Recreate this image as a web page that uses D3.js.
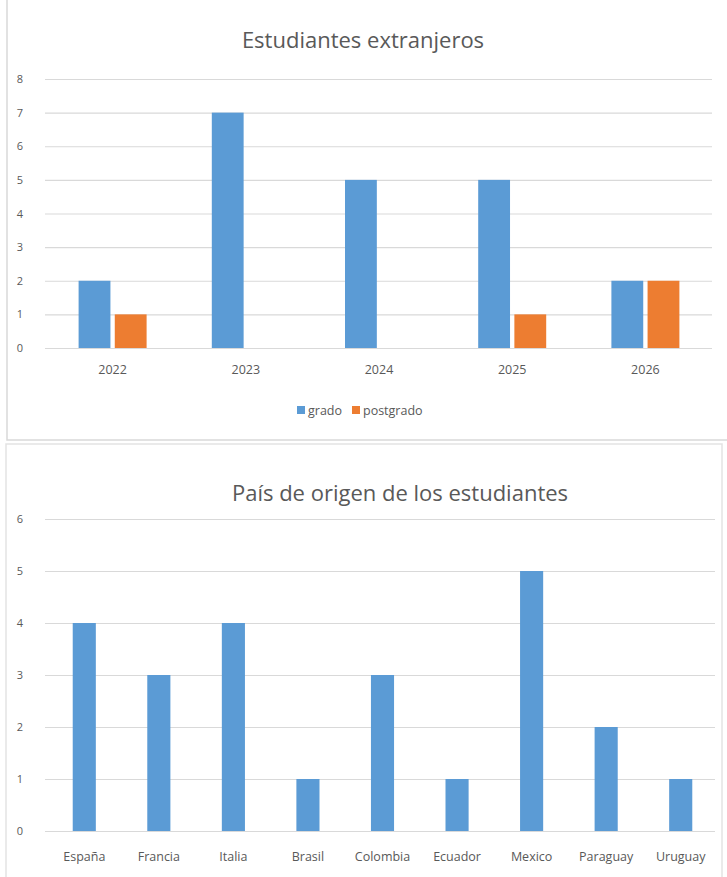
<!DOCTYPE html>
<html>
<head>
<meta charset="utf-8">
<script src="https://cdn.jsdelivr.net/npm/d3@7"></script>
<style>
  body { margin: 0; background: #fff; }
  svg text { font-family: "Open Sans", "Noto Sans", sans-serif; fill: #595959; }
</style>
</head>
<body>
<div id="chart"></div>
<script>
// datos del primer grafico
var years = ["2022", "2023", "2024", "2025", "2026"]
var grado = [2, 7, 5, 5, 2]
var postgrado = [1, 0, 0, 1, 2]
var seriesNames = ["grado", "postgrado"]
var yTicksTop = [0, 1, 2, 3, 4, 5, 6, 7, 8]

// datos del segundo grafico
var paises = ["España", "Francia", "Italia", "Brasil", "Colombia", "Ecuador", "Mexico", "Paraguay", "Uruguay"]
var estudiantes = [4, 3, 4, 1, 3, 1, 5, 2, 1]
var yTicksBottom = [0, 1, 2, 3, 4, 5, 6]

var blue = "#5b9bd5", orange = "#ed7d31", grid = "#d9d9d9"

var width = 727, height = 877

var svg = d3.select("#chart")
    .append("svg")
    .attr("width", width)
    .attr("height", height)

// marcos de los graficos
svg.append("path")
    .attr("d", "M7,-2 L7,440 L730,440")
    .attr("fill", "none")
    .attr("stroke", "#d9d9d9")
    .attr("stroke-width", 1.5)
svg.append("path")
    .attr("d", "M6,880 L6,444 L722,444 L722,880")
    .attr("fill", "none")
    .attr("stroke", "#e3e3e3")
    .attr("stroke-width", 1.5)

function drawAxisY(g, y, ticks, x0, x1) {
    var axis = d3.axisLeft(y)
        .tickValues(ticks)
        .tickSize(-(x1 - x0))
        .tickPadding(22)
        .tickFormat(d3.format("d"))
    g.attr("transform", "translate(" + x0 + ",0)").call(axis)
    g.select(".domain").remove()
    g.selectAll(".tick line").attr("stroke", grid).attr("stroke-width", 1.2)
    g.selectAll(".tick text").style("font-size", "11px")
}

// ---- Estudiantes extranjeros
var box1 = { x0: 46, x1: 712, y0: 79, y1: 348 }

var x1 = d3.scaleBand().domain(years).range([box1.x0, box1.x1])
var xs = d3.scaleBand().domain(seriesNames).range([0, 68]).paddingInner(0.12)
var y1 = d3.scaleLinear().domain([0, 8]).range([box1.y1, box1.y0])

svg.append("text")
    .attr("x", 363).attr("y", 48)
    .attr("text-anchor", "middle")
    .style("font-size", "22px")
    .text("Estudiantes extranjeros")

drawAxisY(svg.append("g"), y1, yTicksTop, box1.x0 - 1, box1.x1)

var rows = years.map(function(d, i) { return { year: d, grado: grado[i], postgrado: postgrado[i] } })

var groups = svg.append("g").selectAll("g")
    .data(rows)
    .enter().append("g")
    .attr("transform", function(d) { return "translate(" + (x1(d.year) + x1.bandwidth() / 2 - 34) + ",0)" })

groups.selectAll("rect")
    .data(function(d) { return seriesNames.map(function(k) { return { key: k, value: d[k] } }) })
    .enter().append("rect")
    .attr("x", function(d) { return xs(d.key) })
    .attr("width", xs.bandwidth())
    .attr("y", function(d) { return y1(d.value) })
    .attr("height", function(d) { return y1(0) - y1(d.value) })
    .attr("fill", function(d) { return d.key == "grado" ? blue : orange })

svg.append("g")
    .attr("transform", "translate(0," + box1.y1 + ")")
    .call(d3.axisBottom(x1).tickSize(0).tickPadding(17))
    .call(function(g) { g.select(".domain").remove() })
    .selectAll("text").style("font-size", "12.5px")

// leyenda
var legend = svg.append("g").attr("transform", "translate(297,410)")
var lx = [0, 55]
seriesNames.forEach(function(k, i) {
    legend.append("rect")
        .attr("x", lx[i]).attr("y", -4)
        .attr("width", 8).attr("height", 8)
        .attr("fill", i == 0 ? blue : orange)
    legend.append("text")
        .attr("x", lx[i] + 11).attr("y", 5)
        .style("font-size", "12.5px")
        .text(k)
})

// ---- País de origen de los estudiantes
var box2 = { x0: 47, x1: 718, y0: 519, y1: 831 }

var x2 = d3.scaleBand().domain(paises).range([box2.x0, box2.x1]).paddingInner(0.69).paddingOuter(0.345)
var y2 = d3.scaleLinear().domain([0, 6]).range([box2.y1, box2.y0])

svg.append("text")
    .attr("x", 400).attr("y", 501)
    .attr("text-anchor", "middle")
    .style("font-size", "22px")
    .text("País de origen de los estudiantes")

drawAxisY(svg.append("g"), y2, yTicksBottom, box2.x0 - 2, 715)

svg.append("g").selectAll("rect")
    .data(paises)
    .enter().append("rect")
    .attr("x", function(d) { return x2(d) })
    .attr("width", x2.bandwidth())
    .attr("y", function(d, i) { return y2(estudiantes[i]) })
    .attr("height", function(d, i) { return y2(0) - y2(estudiantes[i]) })
    .attr("fill", blue)

svg.append("g")
    .attr("transform", "translate(0," + box2.y1 + ")")
    .call(d3.axisBottom(x2).tickSize(0).tickPadding(21))
    .call(function(g) { g.select(".domain").remove() })
    .selectAll("text").style("font-size", "12.5px")
</script>
</body>
</html>
